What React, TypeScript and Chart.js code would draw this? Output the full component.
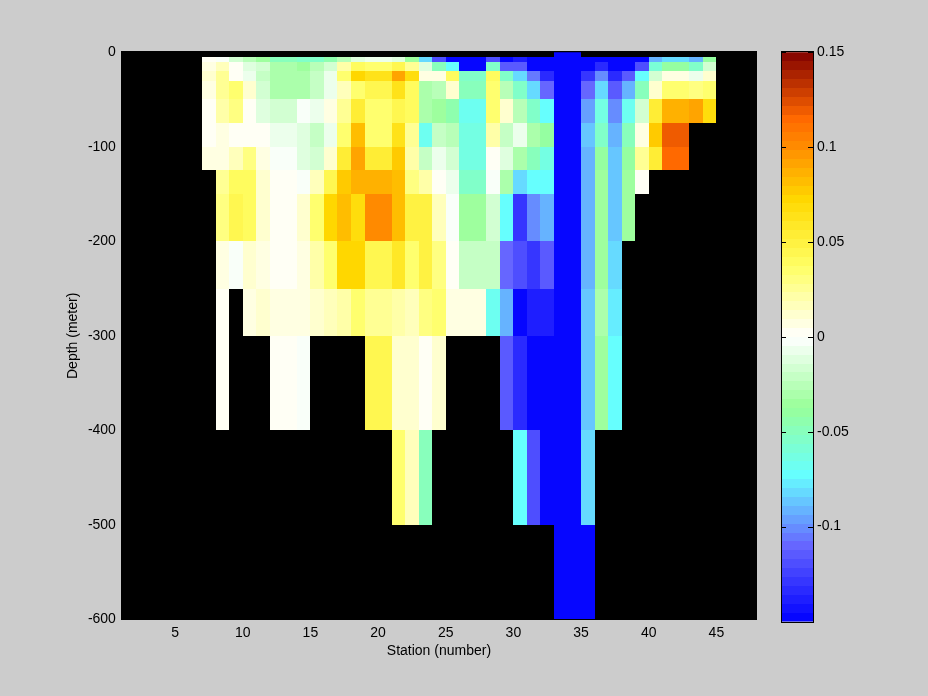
import React, { useEffect, useRef } from "react";
import { Chart, registerables } from "chart.js";

Chart.register(...registerables);

const _ = null;
const xTicks = [5, 10, 15, 20, 25, 30, 35, 40, 45];
const yTicks = [0, -100, -200, -300, -400, -500, -600];
const barTicks = [0.15, 0.1, 0.05, 0, -0.05, -0.1];
const firstStation = 7;
// depth edges of the rows, metres
const depthEdges = [0, -5, -10, -20, -30, -50, -75, -100, -125, -150, -200, -250, -300, -400, -500, -600];

// one list per depth row; stations 7..44
const row0 = [_,_,_,_,_,_,_,_,_,_,_,_,_,_,_,_,_,_,_,_,_,_,_,_,_,_,-.15,-.15,_,_,_,_,_,_,_,_,_,_];
const row1 = [0,-.003,-.018,-.027,-.037,-.05,-.05,-.055,-.055,-.045,-.027,-.012,-.007,-.007,-.01,-.037,-.08,-.12,-.15,-.15,-.15,-.12,-.147,-.14,-.15,-.15,-.15,-.15,-.15,-.15,-.15,-.15,-.15,-.09,-.08,-.08,-.09,-.038];
const row2 = [.008,.015,.002,-.01,-.016,-.032,-.032,-.037,-.027,-.018,.02,.042,.035,.035,.045,.028,-.01,-.05,-.075,-.15,-.15,-.055,-.115,-.115,-.15,-.15,-.15,-.15,-.15,-.135,-.15,-.15,-.12,-.06,-.04,-.04,-.055,-.018];
const row3 = [.012,.025,.002,-.007,-.023,-.03,-.03,-.03,-.022,-.007,.035,.072,.062,.062,.09,.068,.008,.008,.04,-.055,-.055,.038,-.055,-.08,-.105,-.135,-.15,-.15,-.13,-.1,-.135,-.115,-.075,-.018,.007,.007,-.009,.01];
const row4 = [.007,.028,.034,.012,-.017,-.03,-.03,-.03,-.022,-.007,.016,.035,.045,.045,.062,.04,-.03,-.026,.011,-.048,-.048,.034,-.027,-.055,-.083,-.11,-.15,-.15,-.11,-.082,-.117,-.092,-.048,.011,.035,.035,.03,.034];
const row5 = [.002,.02,.032,.001,-.01,-.018,-.018,-.003,-.007,.005,.028,.055,.033,.033,.045,.04,-.032,-.037,-.045,-.067,-.067,.034,.011,-.027,-.055,-.075,-.15,-.15,-.098,-.065,-.102,-.067,-.018,.052,.086,.086,.09,.068];
const row6 = [.003,.007,.002,.002,.002,-.007,-.007,-.01,-.022,-.007,.033,.082,.034,.034,.062,.025,-.068,-.023,-.028,-.065,-.065,.02,-.022,-.009,-.032,-.04,-.15,-.15,-.088,-.055,-.092,-.05,.008,.075,.12,.12,_,_];
const row7 = [.007,.009,.015,.03,.008,-.003,-.003,-.01,-.018,.01,.052,.09,.055,.055,.075,.021,-.023,-.007,-.018,-.062,-.062,.004,-.01,-.03,-.05,-.063,-.15,-.15,-.092,-.04,-.087,-.04,.025,.054,.115,.115,_,_];
const row8 = [_,.028,.042,.042,.01,.001,.001,-.003,.015,.045,.075,.085,.087,.087,.08,.03,.02,.001,-.009,-.055,-.055,-.004,-.03,-.083,-.075,-.075,-.15,-.15,-.092,-.037,-.088,-.037,.001,_,_,_,_,_];
const row9 = [_,.032,.045,.04,.01,.002,.002,.014,.035,.072,.083,.067,.1,.1,.083,.05,.048,.015,-.003,-.037,-.037,-.018,-.075,-.13,-.1,-.092,-.15,-.15,-.092,-.037,-.088,-.037,_,_,_,_,_,_];
const row10 = [_,.007,-.003,.01,.005,.002,.002,.009,.02,.037,.072,.072,.045,.045,.057,.034,.05,.03,.003,-.022,-.022,-.022,-.11,-.12,-.128,-.115,-.15,-.15,-.092,-.037,-.082,_,_,_,_,_,_,_];
const row11 = [_,.004,_,.007,.01,.005,.005,.009,.013,.017,.023,.034,.026,.026,.021,.015,.03,.036,.005,.009,.009,-.068,-.093,-.15,-.137,-.137,-.15,-.15,-.088,-.031,-.077,_,_,_,_,_,_,_];
const row12 = [_,.004,_,_,_,.004,.004,-.003,_,_,_,_,.045,.045,.014,.014,.002,.012,_,_,_,_,-.117,-.135,-.15,-.15,-.15,-.15,-.088,-.037,-.073,_,_,_,_,_,_,_];
const row13 = [_,_,_,_,_,_,_,_,_,_,_,_,_,_,.034,.015,-.05,_,_,_,_,_,_,-.075,-.12,-.15,-.15,-.15,-.082,_,_,_,_,_,_,_,_,_];
const row14 = [_,_,_,_,_,_,_,_,_,_,_,_,_,_,_,_,_,_,_,_,_,_,_,_,_,_,-.15,-.15,-.15,_,_,_,_,_,_,_,_,_];
const rows = [row0, row1, row2, row3, row4, row5, row6, row7, row8, row9, row10, row11, row12, row13, row14];

// colour map anchors
const mapValues = [-0.15, -0.11, -0.073, -0.037, 0, 0.037, 0.072, 0.1, 0.115, 0.15];
const mapColors = [
  [0, 0, 255], [102, 102, 255], [102, 255, 255], [153, 255, 153], [255, 255, 255],
  [255, 255, 102], [255, 217, 0], [255, 140, 0], [255, 105, 0], [128, 0, 0],
];
const LEVELS = 64;
const VMIN = -0.15;
const VMAX = 0.15;

function colorFor(v: number): string {
  const step = (VMAX - VMIN) / LEVELS;
  let level = Math.floor((v - VMIN) / step);
  level = Math.max(0, Math.min(LEVELS - 1, level));
  const c = VMIN + (level + 0.5) * step;
  let i = 0;
  while (i < mapValues.length - 2 && c > mapValues[i + 1]) i++;
  const t = Math.max(0, Math.min(1, (c - mapValues[i]) / (mapValues[i + 1] - mapValues[i])));
  const a = mapColors[i];
  const b = mapColors[i + 1];
  return `rgb(${Math.round(a[0] + (b[0] - a[0]) * t)},${Math.round(a[1] + (b[1] - a[1]) * t)},${Math.round(a[2] + (b[2] - a[2]) * t)})`;
}

const FONT = { family: "'Liberation Sans', Arial, sans-serif", size: 14 };

// keep the image-like cells on whole pixels, as the original raster has them
function snapCells(c: any) {
  c.getSortedVisibleDatasetMetas().forEach((meta: any) => {
    meta.data.forEach((el: any) => {
      const horizontal = el.horizontal;
      const x0 = horizontal ? Math.min(el.x, el.base) : el.x - el.width / 2;
      const x1 = horizontal ? Math.max(el.x, el.base) : el.x + el.width / 2;
      const y0 = horizontal ? el.y - el.height / 2 : Math.min(el.y, el.base);
      const y1 = horizontal ? el.y + el.height / 2 : Math.max(el.y, el.base);
      const l = Math.round(x0), r = Math.round(x1), t = Math.round(y0), b = Math.round(y1);
      if (horizontal) {
        el.x = r; el.base = l; el.y = (t + b) / 2; el.height = b - t;
      } else {
        el.x = (l + r) / 2; el.width = r - l; el.y = t; el.base = b;
      }
    });
  });
}

export default function App() {
  const mainRef = useRef<HTMLCanvasElement>(null);
  const barRef = useRef<HTMLCanvasElement>(null);

  useEffect(() => {
    document.body.style.margin = "0";
    document.body.style.background = "#cccccc";
    document.documentElement.style.overflow = "hidden";

    const datasets = rows.map((row, r) => {
      const cells = row
        .map((v, i) => ({ v, i }))
        .filter((c) => c.v !== null) as { v: number; i: number }[];
      return {
        data: cells.map((c) => ({
          x: firstStation + c.i + 0.5,
          y: [depthEdges[r + 1], depthEdges[r]],
        })),
        backgroundColor: cells.map((c) => colorFor(c.v)),
        borderWidth: 0,
        inflateAmount: 0,
        barPercentage: 1,
        categoryPercentage: 1,
        grouped: false,
      };
    });

    const main = new Chart(mainRef.current!, {
      type: "bar",
      data: { datasets: datasets as any },
      options: {
        animation: false,
        responsive: false,
        devicePixelRatio: 1,
        layout: { padding: { top: 52.2, right: 171, left: 65, bottom: 36.56 } },
        plugins: { legend: { display: false }, tooltip: { enabled: false } },
        scales: {
          x: {
            type: "linear",
            min: 1,
            max: 48,
            offset: false,
            grid: { display: false, drawTicks: false },
            border: { display: false },
            afterBuildTicks: (s: any) => { s.ticks = xTicks.map((value) => ({ value })); },
            afterFit: (s: any) => { s.height = 40; },
            ticks: { color: "#000", font: FONT, padding: 5, maxRotation: 0, autoSkip: false },
            title: { display: true, text: "Station (number)", color: "#000", font: FONT, padding: 0 },
          },
          y: {
            type: "linear",
            min: -600,
            max: 0,
            grid: { display: false, drawTicks: false },
            border: { display: false },
            afterBuildTicks: (s: any) => { s.ticks = yTicks.map((value) => ({ value })); },
            afterFit: (s: any) => { s.width = 55.9; },
            ticks: { color: "#000", font: FONT, padding: 5, autoSkip: false, callback: (v: any) => String(v) },
            title: { display: true, text: "Depth (meter)", color: "#000", font: FONT, padding: 0 },
          },
        },
      },
      plugins: [
        {
          id: "plotFrame",
          beforeDatasetsDraw(c: any) {
            snapCells(c);
            const ctx = c.ctx;
            ctx.save();
            ctx.fillStyle = "#000";
            ctx.fillRect(121, 51, 636, 569);
            ctx.restore();
          },
          afterDatasetsDraw(c: any) {
            const ctx = c.ctx;
            ctx.save();
            ctx.strokeStyle = "#000";
            ctx.lineWidth = 1;
            ctx.strokeRect(121.5, 51.5, 635, 568);
            ctx.restore();
          },
        },
      ],
    } as any);

    const step = (VMAX - VMIN) / LEVELS;
    const levels = Array.from({ length: LEVELS }, (_v, i) => VMIN + (i + 0.5) * step);
    const bar = new Chart(barRef.current!, {
      type: "bar",
      data: {
        datasets: [
          {
            data: levels.map((l) => ({ y: l, x: [0, 1] })),
            backgroundColor: levels.map((l) => colorFor(l)),
            borderWidth: 0,
            inflateAmount: 0,
            barPercentage: 1,
            categoryPercentage: 1,
          },
        ],
      } as any,
      options: {
        indexAxis: "y",
        animation: false,
        responsive: false,
        devicePixelRatio: 1,
        layout: { padding: { top: 52.3, bottom: 74.5, left: 781, right: 0 } },
        plugins: { legend: { display: false }, tooltip: { enabled: false } },
        scales: {
          x: { type: "linear", min: 0, max: 1, display: false },
          y: {
            type: "linear",
            position: "right",
            min: VMIN,
            max: VMAX,
            offset: false,
            grid: { display: false, drawTicks: false },
            border: { display: false },
            afterBuildTicks: (s: any) => { s.ticks = barTicks.map((value) => ({ value })); },
            afterFit: (s: any) => { s.width = 114; },
            ticks: { color: "#000", font: FONT, padding: 3, autoSkip: false, callback: (v: any) => String(v) },
          },
        },
      },
      plugins: [
        {
          id: "barFrame",
          beforeDatasetsDraw: snapCells,
          afterDatasetsDraw(c: any) {
            const { left, right, top, bottom } = c.chartArea;
            const ctx = c.ctx;
            const l = Math.round(left), r = Math.round(right), t = Math.round(top), b = Math.round(bottom);
            ctx.save();
            ctx.strokeStyle = "#000";
            ctx.lineWidth = 1;
            ctx.strokeRect(l + 0.5, t - 0.5, r - l - 1, b - t + 1);
            ctx.beginPath();
            for (const tick of c.scales.y.ticks) {
              const py = Math.round(c.scales.y.getPixelForValue(tick.value)) + 0.5;
              ctx.moveTo(l, py);
              ctx.lineTo(l + 5, py);
              ctx.moveTo(r, py);
              ctx.lineTo(r - 6, py);
            }
            ctx.stroke();
            ctx.restore();
          },
        },
      ],
    } as any);

    return () => {
      main.destroy();
      bar.destroy();
    };
  }, []);

  return (
    <div style={{ position: "relative", width: 928, height: 696, background: "#cccccc" }}>
      <canvas ref={mainRef} width={928} height={696} style={{ position: "absolute", left: 0, top: 0 }} />
      <canvas ref={barRef} width={928} height={696} style={{ position: "absolute", left: 0, top: 0 }} />
    </div>
  );
}
